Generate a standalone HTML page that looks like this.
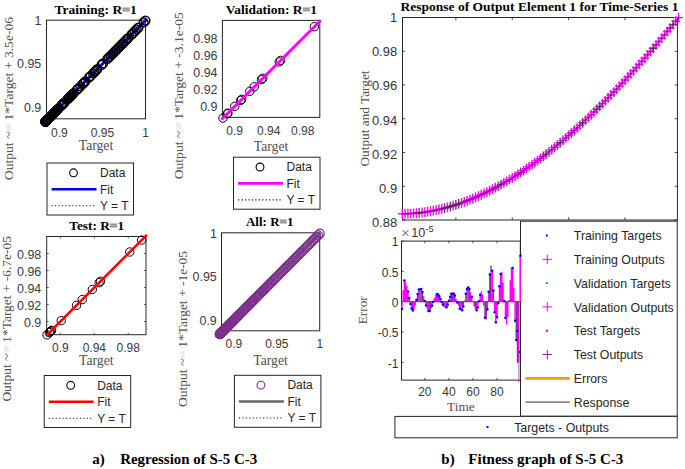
<!DOCTYPE html>
<html><head><meta charset="utf-8"><style>html,body{margin:0;padding:0;background:#fff;overflow:hidden}svg{display:block}</style></head>
<body><svg width="685" height="469" viewBox="0 0 685 469">
<rect width="685" height="469" fill="#fff"/>
<text x="54.6" y="14.2" font-size="13.5" font-family="Liberation Serif, serif" font-weight="bold" fill="#000" textLength="82.1" lengthAdjust="spacingAndGlyphs">Training: R<tspan fill="#8a8a8a" stroke="#9a9a9a" stroke-width="0.9">=</tspan>1</text>
<rect x="46.5" y="20.2" width="99" height="98.6" fill="#fff" stroke="#262626" stroke-width="1"/>
<text x="59.4" y="136.5" font-size="12" font-family="Liberation Sans, sans-serif" fill="#3a3a3a" text-anchor="middle" >0.9</text>
<text x="102.45" y="136.5" font-size="12" font-family="Liberation Sans, sans-serif" fill="#3a3a3a" text-anchor="middle" >0.95</text>
<text x="145.5" y="136.5" font-size="12" font-family="Liberation Sans, sans-serif" fill="#3a3a3a" text-anchor="middle" >1</text>
<text x="41.3" y="111.95" font-size="12.45" font-family="Liberation Sans, sans-serif" fill="#3a3a3a" text-anchor="end" >0.9</text>
<text x="41.3" y="68.45" font-size="12.45" font-family="Liberation Sans, sans-serif" fill="#3a3a3a" text-anchor="end" >0.95</text>
<text x="41.3" y="24.95" font-size="12.45" font-family="Liberation Sans, sans-serif" fill="#3a3a3a" text-anchor="end" >1</text>
<line x1="46.5" y1="120.53" x2="145.5" y2="20.5" stroke="#0000ff" stroke-width="2.9" stroke-linecap="square"/>
<g fill="none" stroke="#000" stroke-width="1.45"><circle cx="45.35" cy="121.7" r="4.4"/><circle cx="45.36" cy="121.68" r="4.4"/><circle cx="45.41" cy="121.64" r="4.4"/><circle cx="45.47" cy="121.57" r="4.4"/><circle cx="45.57" cy="121.48" r="4.4"/><circle cx="45.69" cy="121.35" r="4.4"/><circle cx="46" cy="121.04" r="4.4"/><circle cx="46.2" cy="120.84" r="4.4"/><circle cx="46.42" cy="120.62" r="4.4"/><circle cx="46.66" cy="120.37" r="4.4"/><circle cx="46.93" cy="120.1" r="4.4"/><circle cx="47.22" cy="119.81" r="4.4"/><circle cx="47.87" cy="119.15" r="4.4"/><circle cx="48.63" cy="118.39" r="4.4"/><circle cx="49.47" cy="117.53" r="4.4"/><circle cx="50.91" cy="116.08" r="4.4"/><circle cx="51.43" cy="115.55" r="4.4"/><circle cx="53.14" cy="113.82" r="4.4"/><circle cx="53.76" cy="113.2" r="4.4"/><circle cx="54.39" cy="112.56" r="4.4"/><circle cx="55.05" cy="111.89" r="4.4"/><circle cx="55.73" cy="111.21" r="4.4"/><circle cx="56.43" cy="110.5" r="4.4"/><circle cx="57.15" cy="109.77" r="4.4"/><circle cx="57.89" cy="109.02" r="4.4"/><circle cx="58.66" cy="108.25" r="4.4"/><circle cx="61.07" cy="105.81" r="4.4"/><circle cx="61.92" cy="104.96" r="4.4"/><circle cx="62.78" cy="104.08" r="4.4"/><circle cx="63.67" cy="103.19" r="4.4"/><circle cx="64.57" cy="102.27" r="4.4"/><circle cx="67.4" cy="99.41" r="4.4"/><circle cx="68.39" cy="98.42" r="4.4"/><circle cx="69.39" cy="97.41" r="4.4"/><circle cx="70.41" cy="96.38" r="4.4"/><circle cx="71.45" cy="95.33" r="4.4"/><circle cx="72.5" cy="94.26" r="4.4"/><circle cx="73.58" cy="93.17" r="4.4"/><circle cx="76.91" cy="89.8" r="4.4"/><circle cx="78.06" cy="88.64" r="4.4"/><circle cx="80.41" cy="86.27" r="4.4"/><circle cx="82.82" cy="83.83" r="4.4"/><circle cx="84.06" cy="82.59" r="4.4"/><circle cx="85.31" cy="81.32" r="4.4"/><circle cx="89.16" cy="77.43" r="4.4"/><circle cx="90.47" cy="76.1" r="4.4"/><circle cx="93.15" cy="73.4" r="4.4"/><circle cx="94.51" cy="72.02" r="4.4"/><circle cx="95.89" cy="70.63" r="4.4"/><circle cx="97.28" cy="69.22" r="4.4"/><circle cx="101.56" cy="64.9" r="4.4"/><circle cx="103.01" cy="63.44" r="4.4"/><circle cx="107.45" cy="58.94" r="4.4"/><circle cx="108.96" cy="57.42" r="4.4"/><circle cx="110.49" cy="55.88" r="4.4"/><circle cx="112.03" cy="54.32" r="4.4"/><circle cx="113.58" cy="52.76" r="4.4"/><circle cx="115.14" cy="51.17" r="4.4"/><circle cx="116.72" cy="49.58" r="4.4"/><circle cx="118.31" cy="47.97" r="4.4"/><circle cx="119.92" cy="46.35" r="4.4"/><circle cx="121.53" cy="44.72" r="4.4"/><circle cx="123.16" cy="43.07" r="4.4"/><circle cx="124.8" cy="41.41" r="4.4"/><circle cx="126.46" cy="39.74" r="4.4"/><circle cx="128.13" cy="38.06" r="4.4"/><circle cx="131.49" cy="34.65" r="4.4"/><circle cx="133.2" cy="32.93" r="4.4"/><circle cx="134.91" cy="31.2" r="4.4"/><circle cx="136.63" cy="29.46" r="4.4"/><circle cx="138.37" cy="27.7" r="4.4"/><circle cx="143.64" cy="22.38" r="4.4"/><circle cx="145.42" cy="20.58" r="4.4"/></g>
<text x="96" y="149.8" font-size="13.7" font-family="Liberation Serif, serif" fill="#505050" text-anchor="middle">Target</text>
<text transform="translate(12.5,180.2) rotate(-90)" font-size="13.3" font-family="Liberation Serif, serif" fill="#505050" textLength="163.3" lengthAdjust="spacingAndGlyphs">Output ~<tspan fill="#ececec" stroke="#ececec" stroke-width="1.5">=</tspan> 1*Target + 3.5e-06</text>
<rect x="47" y="163" width="86.5" height="52" fill="#fff" stroke="#262626" stroke-width="1"/>
<circle cx="73.5" cy="172.8" r="3.9" fill="none" stroke="#000" stroke-width="1.1"/>
<line x1="51.6" y1="189.2" x2="96.5" y2="189.2" stroke="#0000ff" stroke-width="2.6"/>
<line x1="51.6" y1="205.7" x2="96.5" y2="205.7" stroke="#000" stroke-width="1.15" stroke-dasharray="1.1 2.35"/>
<text x="100" y="177" font-size="12" font-family="Liberation Sans, sans-serif" fill="#262626" text-anchor="start" >Data</text>
<text x="100" y="193.5" font-size="12" font-family="Liberation Sans, sans-serif" fill="#262626" text-anchor="start" >Fit</text>
<text x="100" y="210" font-size="12" font-family="Liberation Sans, sans-serif" fill="#262626" text-anchor="start" >Y = T</text>
<text x="225.8" y="14.4" font-size="13.5" font-family="Liberation Serif, serif" font-weight="bold" fill="#000" textLength="91.1" lengthAdjust="spacingAndGlyphs">Validation: R<tspan fill="#8a8a8a" stroke="#9a9a9a" stroke-width="0.9">=</tspan>1</text>
<rect x="222.4" y="20.4" width="97.4" height="97" fill="#fff" stroke="#262626" stroke-width="1"/>
<text x="234.7" y="135" font-size="12" font-family="Liberation Sans, sans-serif" fill="#3a3a3a" text-anchor="middle" >0.9</text>
<text x="268.7" y="135" font-size="12" font-family="Liberation Sans, sans-serif" fill="#3a3a3a" text-anchor="middle" >0.94</text>
<text x="302.7" y="135" font-size="12" font-family="Liberation Sans, sans-serif" fill="#3a3a3a" text-anchor="middle" >0.98</text>
<text x="217.5" y="110.85" font-size="12.45" font-family="Liberation Sans, sans-serif" fill="#3a3a3a" text-anchor="end" >0.9</text>
<text x="217.5" y="93.85" font-size="12.45" font-family="Liberation Sans, sans-serif" fill="#3a3a3a" text-anchor="end" >0.92</text>
<text x="217.5" y="76.85" font-size="12.45" font-family="Liberation Sans, sans-serif" fill="#3a3a3a" text-anchor="end" >0.94</text>
<text x="217.5" y="59.85" font-size="12.45" font-family="Liberation Sans, sans-serif" fill="#3a3a3a" text-anchor="end" >0.96</text>
<text x="217.5" y="42.85" font-size="12.45" font-family="Liberation Sans, sans-serif" fill="#3a3a3a" text-anchor="end" >0.98</text>
<g fill="none" stroke="#000" stroke-width="1"><circle cx="222.99" cy="118.11" r="4.2"/><circle cx="227.38" cy="113.72" r="4.2"/><circle cx="227.94" cy="113.16" r="4.2"/><circle cx="234.74" cy="106.36" r="4.2"/><circle cx="240.72" cy="100.38" r="4.2"/><circle cx="241.65" cy="99.45" r="4.2"/><circle cx="249.78" cy="91.32" r="4.2"/><circle cx="254.27" cy="86.83" r="4.2"/><circle cx="261.53" cy="79.57" r="4.2"/><circle cx="262.79" cy="78.31" r="4.2"/><circle cx="279.2" cy="61.9" r="4.2"/><circle cx="280.66" cy="60.44" r="4.2"/><circle cx="314.39" cy="26.71" r="4.2"/></g>
<line x1="222.4" y1="118.7" x2="319.8" y2="21.3" stroke="#ff00ff" stroke-width="2.9" stroke-linecap="square"/>
<text x="271.1" y="151" font-size="13.7" font-family="Liberation Serif, serif" fill="#505050" text-anchor="middle">Target</text>
<text transform="translate(182.9,179.2) rotate(-90)" font-size="13.3" font-family="Liberation Serif, serif" fill="#505050" textLength="167" lengthAdjust="spacingAndGlyphs">Output ~<tspan fill="#ececec" stroke="#ececec" stroke-width="1.5">=</tspan> 1*Target + -3.1e-05</text>
<rect x="233.5" y="157.2" width="86.5" height="52" fill="#fff" stroke="#262626" stroke-width="1"/>
<circle cx="260" cy="167" r="3.9" fill="none" stroke="#000" stroke-width="1.1"/>
<line x1="238.1" y1="183.4" x2="283" y2="183.4" stroke="#ff00ff" stroke-width="2.6"/>
<line x1="238.1" y1="199.9" x2="283" y2="199.9" stroke="#000" stroke-width="1.15" stroke-dasharray="1.1 2.35"/>
<text x="286.5" y="171.2" font-size="12" font-family="Liberation Sans, sans-serif" fill="#262626" text-anchor="start" >Data</text>
<text x="286.5" y="187.7" font-size="12" font-family="Liberation Sans, sans-serif" fill="#262626" text-anchor="start" >Fit</text>
<text x="286.5" y="204.2" font-size="12" font-family="Liberation Sans, sans-serif" fill="#262626" text-anchor="start" >Y = T</text>
<text x="69.3" y="229.8" font-size="13.5" font-family="Liberation Serif, serif" font-weight="bold" fill="#000" textLength="54.8" lengthAdjust="spacingAndGlyphs">Test: R<tspan fill="#8a8a8a" stroke="#9a9a9a" stroke-width="0.9">=</tspan>1</text>
<rect x="46.7" y="236.5" width="99.3" height="98.2" fill="#fff" stroke="#262626" stroke-width="1"/>
<path d="M60.4 334.7v-2M60.4 236.5v2" stroke="#262626" stroke-width="0.7"/>
<text x="60.4" y="352.2" font-size="12" font-family="Liberation Sans, sans-serif" fill="#3a3a3a" text-anchor="middle" >0.9</text>
<path d="M94.32 334.7v-2M94.32 236.5v2" stroke="#262626" stroke-width="0.7"/>
<text x="94.32" y="352.2" font-size="12" font-family="Liberation Sans, sans-serif" fill="#3a3a3a" text-anchor="middle" >0.94</text>
<path d="M128.24 334.7v-2M128.24 236.5v2" stroke="#262626" stroke-width="0.7"/>
<text x="128.24" y="352.2" font-size="12" font-family="Liberation Sans, sans-serif" fill="#3a3a3a" text-anchor="middle" >0.98</text>
<path d="M46.7 321.5h2M146 321.5h-2" stroke="#262626" stroke-width="0.7"/>
<text x="41.3" y="326.75" font-size="12.45" font-family="Liberation Sans, sans-serif" fill="#3a3a3a" text-anchor="end" >0.9</text>
<path d="M46.7 304.5h2M146 304.5h-2" stroke="#262626" stroke-width="0.7"/>
<text x="41.3" y="309.75" font-size="12.45" font-family="Liberation Sans, sans-serif" fill="#3a3a3a" text-anchor="end" >0.92</text>
<path d="M46.7 287.5h2M146 287.5h-2" stroke="#262626" stroke-width="0.7"/>
<text x="41.3" y="292.75" font-size="12.45" font-family="Liberation Sans, sans-serif" fill="#3a3a3a" text-anchor="end" >0.94</text>
<path d="M46.7 270.5h2M146 270.5h-2" stroke="#262626" stroke-width="0.7"/>
<text x="41.3" y="275.75" font-size="12.45" font-family="Liberation Sans, sans-serif" fill="#3a3a3a" text-anchor="end" >0.96</text>
<path d="M46.7 253.5h2M146 253.5h-2" stroke="#262626" stroke-width="0.7"/>
<text x="41.3" y="258.75" font-size="12.45" font-family="Liberation Sans, sans-serif" fill="#3a3a3a" text-anchor="end" >0.98</text>
<g fill="none" stroke="#000" stroke-width="1"><circle cx="47.04" cy="334.89" r="4.2"/><circle cx="49.41" cy="332.52" r="4.2"/><circle cx="50.19" cy="331.73" r="4.2"/><circle cx="51.07" cy="330.85" r="4.2"/><circle cx="51.54" cy="330.38" r="4.2"/><circle cx="61.23" cy="320.66" r="4.2"/><circle cx="76.54" cy="305.33" r="4.2"/><circle cx="82.27" cy="299.58" r="4.2"/><circle cx="92.31" cy="289.51" r="4.2"/><circle cx="99.1" cy="282.71" r="4.2"/><circle cx="100.5" cy="281.3" r="4.2"/><circle cx="129.74" cy="252" r="4.2"/><circle cx="141.63" cy="240.08" r="4.2"/></g>
<line x1="46.7" y1="335.23" x2="146" y2="235.7" stroke="#ff0000" stroke-width="2.5" stroke-linecap="square"/>
<text x="96.35" y="364.6" font-size="13.7" font-family="Liberation Serif, serif" fill="#505050" text-anchor="middle">Target</text>
<text transform="translate(11,401.6) rotate(-90)" font-size="13.3" font-family="Liberation Serif, serif" fill="#505050" textLength="165.5" lengthAdjust="spacingAndGlyphs">Output ~<tspan fill="#ececec" stroke="#ececec" stroke-width="1.5">=</tspan> 1*Target + -6.7e-05</text>
<rect x="44.2" y="375.5" width="86.5" height="52" fill="#fff" stroke="#262626" stroke-width="1"/>
<circle cx="70.7" cy="385.3" r="3.9" fill="none" stroke="#000" stroke-width="1.1"/>
<line x1="48.8" y1="401.7" x2="93.7" y2="401.7" stroke="#ff0000" stroke-width="2.6"/>
<line x1="48.8" y1="418.2" x2="93.7" y2="418.2" stroke="#000" stroke-width="1.15" stroke-dasharray="1.1 2.35"/>
<text x="97.2" y="389.5" font-size="12" font-family="Liberation Sans, sans-serif" fill="#262626" text-anchor="start" >Data</text>
<text x="97.2" y="406" font-size="12" font-family="Liberation Sans, sans-serif" fill="#262626" text-anchor="start" >Fit</text>
<text x="97.2" y="422.5" font-size="12" font-family="Liberation Sans, sans-serif" fill="#262626" text-anchor="start" >Y = T</text>
<text x="246" y="226.4" font-size="13.5" font-family="Liberation Serif, serif" font-weight="bold" fill="#000" textLength="47.4" lengthAdjust="spacingAndGlyphs">All: R<tspan fill="#8a8a8a" stroke="#9a9a9a" stroke-width="0.9">=</tspan>1</text>
<rect x="221.5" y="232.8" width="98.2" height="98" fill="#fff" stroke="#262626" stroke-width="1"/>
<text x="233.8" y="348.4" font-size="12" font-family="Liberation Sans, sans-serif" fill="#3a3a3a" text-anchor="middle" >0.9</text>
<text x="276.85" y="348.4" font-size="12" font-family="Liberation Sans, sans-serif" fill="#3a3a3a" text-anchor="middle" >0.95</text>
<text x="319.9" y="348.4" font-size="12" font-family="Liberation Sans, sans-serif" fill="#3a3a3a" text-anchor="middle" >1</text>
<text x="216.8" y="324.55" font-size="12.45" font-family="Liberation Sans, sans-serif" fill="#3a3a3a" text-anchor="end" >0.9</text>
<text x="216.8" y="281.25" font-size="12.45" font-family="Liberation Sans, sans-serif" fill="#3a3a3a" text-anchor="end" >0.95</text>
<text x="216.8" y="237.95" font-size="12.45" font-family="Liberation Sans, sans-serif" fill="#3a3a3a" text-anchor="end" >1</text>
<line x1="221.5" y1="332.47" x2="319.7" y2="233.7" stroke="#666666" stroke-width="2.6" stroke-linecap="square"/>
<g fill="none" stroke="#7e2f8e" stroke-width="1.3"><circle cx="219.75" cy="334.24" r="4.4"/><circle cx="219.76" cy="334.22" r="4.4"/><circle cx="219.81" cy="334.17" r="4.4"/><circle cx="219.87" cy="334.11" r="4.4"/><circle cx="219.97" cy="334.01" r="4.4"/><circle cx="220.09" cy="333.89" r="4.4"/><circle cx="220.23" cy="333.75" r="4.4"/><circle cx="220.4" cy="333.58" r="4.4"/><circle cx="220.6" cy="333.38" r="4.4"/><circle cx="220.82" cy="333.16" r="4.4"/><circle cx="221.06" cy="332.91" r="4.4"/><circle cx="221.33" cy="332.65" r="4.4"/><circle cx="221.62" cy="332.35" r="4.4"/><circle cx="221.93" cy="332.03" r="4.4"/><circle cx="222.27" cy="331.69" r="4.4"/><circle cx="222.64" cy="331.33" r="4.4"/><circle cx="223.03" cy="330.94" r="4.4"/><circle cx="223.44" cy="330.52" r="4.4"/><circle cx="223.87" cy="330.09" r="4.4"/><circle cx="224.33" cy="329.63" r="4.4"/><circle cx="224.81" cy="329.15" r="4.4"/><circle cx="225.31" cy="328.64" r="4.4"/><circle cx="225.83" cy="328.11" r="4.4"/><circle cx="226.38" cy="327.56" r="4.4"/><circle cx="226.95" cy="326.99" r="4.4"/><circle cx="227.54" cy="326.39" r="4.4"/><circle cx="228.16" cy="325.77" r="4.4"/><circle cx="228.79" cy="325.14" r="4.4"/><circle cx="229.45" cy="324.47" r="4.4"/><circle cx="230.13" cy="323.79" r="4.4"/><circle cx="230.83" cy="323.09" r="4.4"/><circle cx="231.55" cy="322.36" r="4.4"/><circle cx="232.29" cy="321.61" r="4.4"/><circle cx="233.06" cy="320.85" r="4.4"/><circle cx="233.84" cy="320.06" r="4.4"/><circle cx="234.65" cy="319.25" r="4.4"/><circle cx="235.47" cy="318.42" r="4.4"/><circle cx="236.32" cy="317.57" r="4.4"/><circle cx="237.18" cy="316.7" r="4.4"/><circle cx="238.07" cy="315.81" r="4.4"/><circle cx="238.97" cy="314.9" r="4.4"/><circle cx="239.9" cy="313.97" r="4.4"/><circle cx="240.84" cy="313.02" r="4.4"/><circle cx="241.8" cy="312.05" r="4.4"/><circle cx="242.79" cy="311.06" r="4.4"/><circle cx="243.79" cy="310.05" r="4.4"/><circle cx="244.81" cy="309.03" r="4.4"/><circle cx="245.85" cy="307.98" r="4.4"/><circle cx="246.9" cy="306.92" r="4.4"/><circle cx="247.98" cy="305.84" r="4.4"/><circle cx="249.07" cy="304.74" r="4.4"/><circle cx="250.18" cy="303.62" r="4.4"/><circle cx="251.31" cy="302.48" r="4.4"/><circle cx="252.46" cy="301.33" r="4.4"/><circle cx="253.63" cy="300.16" r="4.4"/><circle cx="254.81" cy="298.97" r="4.4"/><circle cx="256.01" cy="297.76" r="4.4"/><circle cx="257.22" cy="296.54" r="4.4"/><circle cx="258.46" cy="295.3" r="4.4"/><circle cx="259.71" cy="294.04" r="4.4"/><circle cx="260.97" cy="292.77" r="4.4"/><circle cx="262.26" cy="291.48" r="4.4"/><circle cx="263.56" cy="290.17" r="4.4"/><circle cx="264.87" cy="288.85" r="4.4"/><circle cx="266.2" cy="287.51" r="4.4"/><circle cx="267.55" cy="286.15" r="4.4"/><circle cx="268.91" cy="284.78" r="4.4"/><circle cx="270.29" cy="283.4" r="4.4"/><circle cx="271.68" cy="282" r="4.4"/><circle cx="273.09" cy="280.58" r="4.4"/><circle cx="274.52" cy="279.15" r="4.4"/><circle cx="275.96" cy="277.7" r="4.4"/><circle cx="277.41" cy="276.24" r="4.4"/><circle cx="278.88" cy="274.76" r="4.4"/><circle cx="280.36" cy="273.27" r="4.4"/><circle cx="281.85" cy="271.77" r="4.4"/><circle cx="283.36" cy="270.25" r="4.4"/><circle cx="284.89" cy="268.71" r="4.4"/><circle cx="286.43" cy="267.17" r="4.4"/><circle cx="287.98" cy="265.61" r="4.4"/><circle cx="289.54" cy="264.03" r="4.4"/><circle cx="291.12" cy="262.45" r="4.4"/><circle cx="292.71" cy="260.85" r="4.4"/><circle cx="294.32" cy="259.23" r="4.4"/><circle cx="295.93" cy="257.61" r="4.4"/><circle cx="297.56" cy="255.97" r="4.4"/><circle cx="299.2" cy="254.32" r="4.4"/><circle cx="300.86" cy="252.65" r="4.4"/><circle cx="302.53" cy="250.98" r="4.4"/><circle cx="304.2" cy="249.29" r="4.4"/><circle cx="305.89" cy="247.59" r="4.4"/><circle cx="307.6" cy="245.88" r="4.4"/><circle cx="309.31" cy="244.15" r="4.4"/><circle cx="311.03" cy="242.42" r="4.4"/><circle cx="312.77" cy="240.67" r="4.4"/><circle cx="314.52" cy="238.91" r="4.4"/><circle cx="316.27" cy="237.15" r="4.4"/><circle cx="318.04" cy="235.37" r="4.4"/><circle cx="319.82" cy="233.58" r="4.4"/></g>
<text x="270.6" y="365" font-size="13.7" font-family="Liberation Serif, serif" fill="#505050" text-anchor="middle">Target</text>
<text transform="translate(187,406.9) rotate(-90)" font-size="13.3" font-family="Liberation Serif, serif" fill="#505050" textLength="156" lengthAdjust="spacingAndGlyphs">Output ~<tspan fill="#ececec" stroke="#ececec" stroke-width="1.5">=</tspan> 1*Target + -1e-05</text>
<rect x="234.4" y="375.3" width="86.5" height="52" fill="#fff" stroke="#262626" stroke-width="1"/>
<circle cx="260.9" cy="385.1" r="3.9" fill="none" stroke="#7e2f8e" stroke-width="1.1"/>
<line x1="239" y1="401.5" x2="283.9" y2="401.5" stroke="#666666" stroke-width="2.6"/>
<line x1="239" y1="418" x2="283.9" y2="418" stroke="#000" stroke-width="1.15" stroke-dasharray="1.1 2.35"/>
<text x="287.4" y="389.3" font-size="12" font-family="Liberation Sans, sans-serif" fill="#262626" text-anchor="start" >Data</text>
<text x="287.4" y="405.8" font-size="12" font-family="Liberation Sans, sans-serif" fill="#262626" text-anchor="start" >Fit</text>
<text x="287.4" y="422.3" font-size="12" font-family="Liberation Sans, sans-serif" fill="#262626" text-anchor="start" >Y = T</text>
<text x="400.5" y="10.8" font-size="13.4" font-family="Liberation Serif, serif" font-weight="bold" fill="#000" textLength="278" lengthAdjust="spacingAndGlyphs">Response of Output Element 1 for Time-Series 1</text>
<rect x="402.5" y="17.5" width="274.9" height="202.5" fill="#fff" stroke="#262626" stroke-width="1"/>
<path d="M455.87 220.0v-2.8M455.87 17.5v2.8" stroke="#262626" stroke-width="0.8"/>
<path d="M512.26 220.0v-2.8M512.26 17.5v2.8" stroke="#262626" stroke-width="0.8"/>
<path d="M568.64 220.0v-2.8M568.64 17.5v2.8" stroke="#262626" stroke-width="0.8"/>
<path d="M625.03 220.0v-2.8M625.03 17.5v2.8" stroke="#262626" stroke-width="0.8"/>
<path d="M402.5 17.5h2.8M677.4 17.5h-2.8" stroke="#262626" stroke-width="0.8"/>
<text x="397.2" y="22.25" font-size="13" font-family="Liberation Sans, sans-serif" fill="#333" text-anchor="end" >1</text>
<path d="M402.5 51.25h2.8M677.4 51.25h-2.8" stroke="#262626" stroke-width="0.8"/>
<text x="397.2" y="56.35" font-size="13" font-family="Liberation Sans, sans-serif" fill="#333" text-anchor="end" >0.98</text>
<path d="M402.5 85h2.8M677.4 85h-2.8" stroke="#262626" stroke-width="0.8"/>
<text x="397.2" y="90.45" font-size="13" font-family="Liberation Sans, sans-serif" fill="#333" text-anchor="end" >0.96</text>
<path d="M402.5 118.75h2.8M677.4 118.75h-2.8" stroke="#262626" stroke-width="0.8"/>
<text x="397.2" y="124.55" font-size="13" font-family="Liberation Sans, sans-serif" fill="#333" text-anchor="end" >0.94</text>
<path d="M402.5 152.5h2.8M677.4 152.5h-2.8" stroke="#262626" stroke-width="0.8"/>
<text x="397.2" y="158.65" font-size="13" font-family="Liberation Sans, sans-serif" fill="#333" text-anchor="end" >0.92</text>
<path d="M402.5 186.25h2.8M677.4 186.25h-2.8" stroke="#262626" stroke-width="0.8"/>
<text x="397.2" y="192.75" font-size="13" font-family="Liberation Sans, sans-serif" fill="#333" text-anchor="end" >0.9</text>
<path d="M402.5 220h2.8M677.4 220h-2.8" stroke="#262626" stroke-width="0.8"/>
<text x="397.2" y="226.85" font-size="13" font-family="Liberation Sans, sans-serif" fill="#333" text-anchor="end" >0.88</text>
<text transform="translate(369,118.5) rotate(-90)" font-size="13.3" font-family="Liberation Serif, serif" fill="#505050" text-anchor="middle">Output and Target</text>
<circle cx="402.3" cy="213.79" r="1.1" fill="#0000ff"/><circle cx="405.12" cy="213.76" r="1.1" fill="#0000ff"/><circle cx="407.94" cy="213.68" r="1.1" fill="#0000ff"/><circle cx="410.76" cy="213.54" r="1.1" fill="#0000ff"/><circle cx="413.58" cy="213.36" r="1.1" fill="#0000ff"/><circle cx="416.4" cy="213.12" r="1.1" fill="#0000ff"/><circle cx="419.22" cy="212.84" r="1.1" fill="#ff0000"/><circle cx="422.04" cy="212.51" r="1.1" fill="#0000ff"/><circle cx="424.86" cy="212.13" r="1.1" fill="#0000ff"/><circle cx="427.67" cy="211.7" r="1.1" fill="#0000ff"/><circle cx="430.49" cy="211.22" r="1.1" fill="#0000ff"/><circle cx="433.31" cy="210.7" r="1.1" fill="#0000ff"/><circle cx="436.13" cy="210.12" r="1.1" fill="#0000ff"/><circle cx="438.95" cy="209.5" r="1.1" fill="#00c000"/><circle cx="441.77" cy="208.84" r="1.1" fill="#0000ff"/><circle cx="444.59" cy="208.13" r="1.1" fill="#ff0000"/><circle cx="447.41" cy="207.37" r="1.1" fill="#0000ff"/><circle cx="450.23" cy="206.56" r="1.1" fill="#ff0000"/><circle cx="453.05" cy="205.71" r="1.1" fill="#0000ff"/><circle cx="455.87" cy="204.82" r="1.1" fill="#ff0000"/><circle cx="458.69" cy="203.88" r="1.1" fill="#ff0000"/><circle cx="461.51" cy="202.89" r="1.1" fill="#0000ff"/><circle cx="464.33" cy="201.86" r="1.1" fill="#0000ff"/><circle cx="467.15" cy="200.79" r="1.1" fill="#00c000"/><circle cx="469.97" cy="199.67" r="1.1" fill="#00c000"/><circle cx="472.78" cy="198.51" r="1.1" fill="#0000ff"/><circle cx="475.6" cy="197.31" r="1.1" fill="#0000ff"/><circle cx="478.42" cy="196.06" r="1.1" fill="#0000ff"/><circle cx="481.24" cy="194.77" r="1.1" fill="#0000ff"/><circle cx="484.06" cy="193.44" r="1.1" fill="#0000ff"/><circle cx="486.88" cy="192.07" r="1.1" fill="#0000ff"/><circle cx="489.7" cy="190.66" r="1.1" fill="#0000ff"/><circle cx="492.52" cy="189.2" r="1.1" fill="#0000ff"/><circle cx="495.34" cy="187.7" r="1.1" fill="#0000ff"/><circle cx="498.16" cy="186.17" r="1.1" fill="#00c000"/><circle cx="500.98" cy="184.59" r="1.1" fill="#ff0000"/><circle cx="503.8" cy="182.97" r="1.1" fill="#0000ff"/><circle cx="506.62" cy="181.32" r="1.1" fill="#0000ff"/><circle cx="509.44" cy="179.62" r="1.1" fill="#0000ff"/><circle cx="512.26" cy="177.89" r="1.1" fill="#0000ff"/><circle cx="515.08" cy="176.11" r="1.1" fill="#0000ff"/><circle cx="517.89" cy="174.3" r="1.1" fill="#00c000"/><circle cx="520.71" cy="172.45" r="1.1" fill="#00c000"/><circle cx="523.53" cy="170.56" r="1.1" fill="#0000ff"/><circle cx="526.35" cy="168.64" r="1.1" fill="#0000ff"/><circle cx="529.17" cy="166.68" r="1.1" fill="#0000ff"/><circle cx="531.99" cy="164.68" r="1.1" fill="#0000ff"/><circle cx="534.81" cy="162.64" r="1.1" fill="#0000ff"/><circle cx="537.63" cy="160.57" r="1.1" fill="#0000ff"/><circle cx="540.45" cy="158.46" r="1.1" fill="#0000ff"/><circle cx="543.27" cy="156.32" r="1.1" fill="#00c000"/><circle cx="546.09" cy="154.14" r="1.1" fill="#ff0000"/><circle cx="548.91" cy="151.92" r="1.1" fill="#0000ff"/><circle cx="551.73" cy="149.68" r="1.1" fill="#0000ff"/><circle cx="554.55" cy="147.39" r="1.1" fill="#00c000"/><circle cx="557.37" cy="145.08" r="1.1" fill="#0000ff"/><circle cx="560.19" cy="142.73" r="1.1" fill="#ff0000"/><circle cx="563.01" cy="140.34" r="1.1" fill="#0000ff"/><circle cx="565.82" cy="137.92" r="1.1" fill="#0000ff"/><circle cx="568.64" cy="135.47" r="1.1" fill="#0000ff"/><circle cx="571.46" cy="132.99" r="1.1" fill="#00c000"/><circle cx="574.28" cy="130.48" r="1.1" fill="#00c000"/><circle cx="577.1" cy="127.93" r="1.1" fill="#0000ff"/><circle cx="579.92" cy="125.35" r="1.1" fill="#0000ff"/><circle cx="582.74" cy="122.74" r="1.1" fill="#ff0000"/><circle cx="585.56" cy="120.1" r="1.1" fill="#0000ff"/><circle cx="588.38" cy="117.43" r="1.1" fill="#0000ff"/><circle cx="591.2" cy="114.73" r="1.1" fill="#0000ff"/><circle cx="594.02" cy="112" r="1.1" fill="#0000ff"/><circle cx="596.84" cy="109.24" r="1.1" fill="#ff0000"/><circle cx="599.66" cy="106.45" r="1.1" fill="#ff0000"/><circle cx="602.48" cy="103.63" r="1.1" fill="#0000ff"/><circle cx="605.3" cy="100.78" r="1.1" fill="#0000ff"/><circle cx="608.12" cy="97.9" r="1.1" fill="#00c000"/><circle cx="610.93" cy="95" r="1.1" fill="#00c000"/><circle cx="613.75" cy="92.07" r="1.1" fill="#0000ff"/><circle cx="616.57" cy="89.11" r="1.1" fill="#0000ff"/><circle cx="619.39" cy="86.12" r="1.1" fill="#0000ff"/><circle cx="622.21" cy="83.11" r="1.1" fill="#0000ff"/><circle cx="625.03" cy="80.06" r="1.1" fill="#0000ff"/><circle cx="627.85" cy="77" r="1.1" fill="#0000ff"/><circle cx="630.67" cy="73.9" r="1.1" fill="#0000ff"/><circle cx="633.49" cy="70.79" r="1.1" fill="#0000ff"/><circle cx="636.31" cy="67.64" r="1.1" fill="#0000ff"/><circle cx="639.13" cy="64.47" r="1.1" fill="#0000ff"/><circle cx="641.95" cy="61.28" r="1.1" fill="#0000ff"/><circle cx="644.77" cy="58.06" r="1.1" fill="#0000ff"/><circle cx="647.59" cy="54.82" r="1.1" fill="#0000ff"/><circle cx="650.41" cy="51.55" r="1.1" fill="#0000ff"/><circle cx="653.23" cy="48.26" r="1.1" fill="#ff0000"/><circle cx="656.04" cy="44.95" r="1.1" fill="#0000ff"/><circle cx="658.86" cy="41.62" r="1.1" fill="#0000ff"/><circle cx="661.68" cy="38.26" r="1.1" fill="#0000ff"/><circle cx="664.5" cy="34.88" r="1.1" fill="#0000ff"/><circle cx="667.32" cy="31.47" r="1.1" fill="#0000ff"/><circle cx="670.14" cy="28.05" r="1.1" fill="#00c000"/><circle cx="672.96" cy="24.61" r="1.1" fill="#ff0000"/><circle cx="675.78" cy="21.14" r="1.1" fill="#0000ff"/><circle cx="678.6" cy="17.65" r="1.1" fill="#0000ff"/>
<path d="M397.9 213.79h8.8M402.3 208.89v9.8M400.72 213.76h8.8M405.12 208.86v9.8M403.54 213.68h8.8M407.94 208.78v9.8M406.36 213.54h8.8M410.76 208.64v9.8M409.18 213.36h8.8M413.58 208.46v9.8M412 213.12h8.8M416.4 208.22v9.8M417.64 212.51h8.8M422.04 207.61v9.8M420.46 212.13h8.8M424.86 207.23v9.8M423.27 211.7h8.8M427.67 206.8v9.8M426.09 211.22h8.8M430.49 206.32v9.8M428.91 210.7h8.8M433.31 205.8v9.8M431.73 210.12h8.8M436.13 205.22v9.8M437.37 208.84h8.8M441.77 203.94v9.8M443.01 207.37h8.8M447.41 202.47v9.8M448.65 205.71h8.8M453.05 200.81v9.8M457.11 202.89h8.8M461.51 197.99v9.8M459.93 201.86h8.8M464.33 196.96v9.8M468.38 198.51h8.8M472.78 193.61v9.8M471.2 197.31h8.8M475.6 192.41v9.8M474.02 196.06h8.8M478.42 191.16v9.8M476.84 194.77h8.8M481.24 189.87v9.8M479.66 193.44h8.8M484.06 188.54v9.8M482.48 192.07h8.8M486.88 187.17v9.8M485.3 190.66h8.8M489.7 185.76v9.8M488.12 189.2h8.8M492.52 184.3v9.8M490.94 187.7h8.8M495.34 182.8v9.8M499.4 182.97h8.8M503.8 178.07v9.8M502.22 181.32h8.8M506.62 176.42v9.8M505.04 179.62h8.8M509.44 174.72v9.8M507.86 177.89h8.8M512.26 172.99v9.8M510.68 176.11h8.8M515.08 171.21v9.8M519.13 170.56h8.8M523.53 165.66v9.8M521.95 168.64h8.8M526.35 163.74v9.8M524.77 166.68h8.8M529.17 161.78v9.8M527.59 164.68h8.8M531.99 159.78v9.8M530.41 162.64h8.8M534.81 157.74v9.8M533.23 160.57h8.8M537.63 155.67v9.8M536.05 158.46h8.8M540.45 153.56v9.8M544.51 151.92h8.8M548.91 147.02v9.8M547.33 149.68h8.8M551.73 144.78v9.8M552.97 145.08h8.8M557.37 140.18v9.8M558.61 140.34h8.8M563.01 135.44v9.8M561.42 137.92h8.8M565.82 133.02v9.8M564.24 135.47h8.8M568.64 130.57v9.8M572.7 127.93h8.8M577.1 123.03v9.8M575.52 125.35h8.8M579.92 120.45v9.8M581.16 120.1h8.8M585.56 115.2v9.8M583.98 117.43h8.8M588.38 112.53v9.8M586.8 114.73h8.8M591.2 109.83v9.8M589.62 112h8.8M594.02 107.1v9.8M598.08 103.63h8.8M602.48 98.73v9.8M600.9 100.78h8.8M605.3 95.88v9.8M609.35 92.07h8.8M613.75 87.17v9.8M612.17 89.11h8.8M616.57 84.21v9.8M614.99 86.12h8.8M619.39 81.22v9.8M617.81 83.11h8.8M622.21 78.21v9.8M620.63 80.06h8.8M625.03 75.16v9.8M623.45 77h8.8M627.85 72.1v9.8M626.27 73.9h8.8M630.67 69v9.8M629.09 70.79h8.8M633.49 65.89v9.8M631.91 67.64h8.8M636.31 62.74v9.8M634.73 64.47h8.8M639.13 59.57v9.8M637.55 61.28h8.8M641.95 56.38v9.8M640.37 58.06h8.8M644.77 53.16v9.8M643.19 54.82h8.8M647.59 49.92v9.8M646.01 51.55h8.8M650.41 46.65v9.8M651.64 44.95h8.8M656.04 40.05v9.8M654.46 41.62h8.8M658.86 36.72v9.8M657.28 38.26h8.8M661.68 33.36v9.8M660.1 34.88h8.8M664.5 29.98v9.8M662.92 31.47h8.8M667.32 26.57v9.8M671.38 21.14h8.8M675.78 16.24v9.8M674.2 17.65h8.8M678.6 12.75v9.8" stroke="#ff00ff" stroke-width="1.4" fill="none"/>
<path d="M434.55 209.5h8.8M438.95 204.6v9.8M462.75 200.79h8.8M467.15 195.89v9.8M465.57 199.67h8.8M469.97 194.77v9.8M493.76 186.17h8.8M498.16 181.27v9.8M513.49 174.3h8.8M517.89 169.4v9.8M516.31 172.45h8.8M520.71 167.55v9.8M538.87 156.32h8.8M543.27 151.42v9.8M550.15 147.39h8.8M554.55 142.49v9.8M567.06 132.99h8.8M571.46 128.09v9.8M569.88 130.48h8.8M574.28 125.58v9.8M603.72 97.9h8.8M608.12 93v9.8M606.53 95h8.8M610.93 90.1v9.8M665.74 28.05h8.8M670.14 23.15v9.8" stroke="#e000e0" stroke-width="1.4" fill="none"/>
<path d="M414.82 212.84h8.8M419.22 207.94v9.8M440.19 208.13h8.8M444.59 203.23v9.8M445.83 206.56h8.8M450.23 201.66v9.8M451.47 204.82h8.8M455.87 199.92v9.8M454.29 203.88h8.8M458.69 198.98v9.8M496.58 184.59h8.8M500.98 179.69v9.8M541.69 154.14h8.8M546.09 149.24v9.8M555.79 142.73h8.8M560.19 137.83v9.8M578.34 122.74h8.8M582.74 117.84v9.8M592.44 109.24h8.8M596.84 104.34v9.8M595.26 106.45h8.8M599.66 101.55v9.8M648.83 48.26h8.8M653.23 43.36v9.8M668.56 24.61h8.8M672.96 19.71v9.8" stroke="#7e2f8e" stroke-width="1.4" fill="none"/>
<polyline points="402.3,213.79 405.12,213.76 407.94,213.68 410.76,213.54 413.58,213.36 416.4,213.12 419.22,212.84 422.04,212.51 424.86,212.13 427.67,211.7 430.49,211.22 433.31,210.7 436.13,210.12 438.95,209.5 441.77,208.84 444.59,208.13 447.41,207.37 450.23,206.56 453.05,205.71 455.87,204.82 458.69,203.88 461.51,202.89 464.33,201.86 467.15,200.79 469.97,199.67 472.78,198.51 475.6,197.31 478.42,196.06 481.24,194.77 484.06,193.44 486.88,192.07 489.7,190.66 492.52,189.2 495.34,187.7 498.16,186.17 500.98,184.59 503.8,182.97 506.62,181.32 509.44,179.62 512.26,177.89 515.08,176.11 517.89,174.3 520.71,172.45 523.53,170.56 526.35,168.64 529.17,166.68 531.99,164.68 534.81,162.64 537.63,160.57 540.45,158.46 543.27,156.32 546.09,154.14 548.91,151.92 551.73,149.68 554.55,147.39 557.37,145.08 560.19,142.73 563.01,140.34 565.82,137.92 568.64,135.47 571.46,132.99 574.28,130.48 577.1,127.93 579.92,125.35 582.74,122.74 585.56,120.1 588.38,117.43 591.2,114.73 594.02,112 596.84,109.24 599.66,106.45 602.48,103.63 605.3,100.78 608.12,97.9 610.93,95 613.75,92.07 616.57,89.11 619.39,86.12 622.21,83.11 625.03,80.06 627.85,77 630.67,73.9 633.49,70.79 636.31,67.64 639.13,64.47 641.95,61.28 644.77,58.06 647.59,54.82 650.41,51.55 653.23,48.26 656.04,44.95 658.86,41.62 661.68,38.26 664.5,34.88 667.32,31.47 670.14,28.05 672.96,24.61 675.78,21.14 678.6,17.65" fill="none" stroke="#400040" stroke-width="1.6" opacity="0.45"/>
<rect x="401.5" y="241.1" width="118.8" height="139" fill="#fff" stroke="#262626" stroke-width="1"/>
<path d="M424.86 380.1v-2.2M424.86 241.1v2.2" stroke="#262626" stroke-width="0.8"/>
<text x="424.86" y="395.6" font-size="12" font-family="Liberation Sans, sans-serif" fill="#3a3a3a" text-anchor="middle" >20</text>
<path d="M448.92 380.1v-2.2M448.92 241.1v2.2" stroke="#262626" stroke-width="0.8"/>
<text x="448.92" y="395.6" font-size="12" font-family="Liberation Sans, sans-serif" fill="#3a3a3a" text-anchor="middle" >40</text>
<path d="M472.98 380.1v-2.2M472.98 241.1v2.2" stroke="#262626" stroke-width="0.8"/>
<text x="472.98" y="395.6" font-size="12" font-family="Liberation Sans, sans-serif" fill="#3a3a3a" text-anchor="middle" >60</text>
<path d="M497.04 380.1v-2.2M497.04 241.1v2.2" stroke="#262626" stroke-width="0.8"/>
<text x="497.04" y="395.6" font-size="12" font-family="Liberation Sans, sans-serif" fill="#3a3a3a" text-anchor="middle" >80</text>
<path d="M401.5 241.1h2.2" stroke="#262626" stroke-width="0.8"/>
<text x="398.5" y="246.3" font-size="12" font-family="Liberation Sans, sans-serif" fill="#333" text-anchor="end" >1</text>
<path d="M401.5 271.4h2.2" stroke="#262626" stroke-width="0.8"/>
<text x="398.5" y="276.6" font-size="12" font-family="Liberation Sans, sans-serif" fill="#333" text-anchor="end" >0.5</text>
<path d="M401.5 301.7h2.2" stroke="#262626" stroke-width="0.8"/>
<text x="398.5" y="306.9" font-size="12" font-family="Liberation Sans, sans-serif" fill="#333" text-anchor="end" >0</text>
<path d="M401.5 332h2.2" stroke="#262626" stroke-width="0.8"/>
<text x="398.5" y="337.2" font-size="12" font-family="Liberation Sans, sans-serif" fill="#333" text-anchor="end" >-0.5</text>
<path d="M401.5 362.3h2.2" stroke="#262626" stroke-width="0.8"/>
<text x="398.5" y="367.5" font-size="12" font-family="Liberation Sans, sans-serif" fill="#333" text-anchor="end" >-1</text>
<text x="401.0" y="238.2" font-size="15" font-family="Liberation Sans, sans-serif" fill="#8a8a8a">×</text>
<text x="411.2" y="237.1" font-size="12.6" font-family="Liberation Sans, sans-serif" fill="#333">10</text>
<text x="425.4" y="231.5" font-size="9.3" font-family="Liberation Sans, sans-serif" fill="#333">-5</text>
<text x="460.9" y="410.5" font-size="13.3" font-family="Liberation Serif, serif" fill="#505050" text-anchor="middle">Time</text>
<text transform="translate(367,310.3) rotate(-90)" font-size="13.3" font-family="Liberation Serif, serif" fill="#505050" text-anchor="middle">Error</text>
<path d="M518.69 362V380" stroke="#c8a0d0" stroke-width="1.4"/>
<path d="M402 301.7V308.95M403.2 301.7V290.29M404.41 301.7V280.5M405.61 301.7V281.91M406.81 301.7V285.84M408.01 301.7V291.57M410.42 301.7V304.01M411.62 301.7V308.42M412.83 301.7V310.43M414.03 301.7V309.51M415.23 301.7V305.6M416.44 301.7V299.83M418.84 301.7V289.53M421.25 301.7V289.08M423.65 301.7V296.22M427.26 301.7V309.13M428.47 301.7V311M432.07 301.7V305.66M433.28 301.7V301.66M434.48 301.7V297.88M435.68 301.7V295.12M436.89 301.7V294.01M438.09 301.7V294.55M439.29 301.7V296.32M440.5 301.7V298.97M441.7 301.7V302.02M445.31 301.7V307.96M446.51 301.7V307.35M447.71 301.7V304.7M448.92 301.7V300.77M450.12 301.7V296.7M453.73 301.7V293.4M454.93 301.7V295.59M456.13 301.7V298.8M457.34 301.7V302.49M458.54 301.7V306.03M459.74 301.7V308.81M460.95 301.7V310.37M464.56 301.7V300.43M465.76 301.7V293.81M468.17 301.7V287.52M470.57 301.7V292.25M471.77 301.7V296.86M472.98 301.7V301.86M476.59 301.7V310.19M477.79 301.7V307.46M480.19 301.7V294.86M481.4 301.7V291.36M482.6 301.7V294.53M483.8 301.7V306.35M487.41 301.7V309.43M488.62 301.7V291.76M492.23 301.7V270.81M493.43 301.7V290.5M494.63 301.7V312.33M495.83 301.7V322.37M497.04 301.7V317.36M498.24 301.7V303.3M499.44 301.7V286.37M500.65 301.7V273.99M501.85 301.7V271.71M503.05 301.7V282.38M504.25 301.7V301.11M505.46 301.7V318.07M506.66 301.7V324.38M507.86 301.7V317.06M510.27 301.7V280.25M511.47 301.7V267.47M512.68 301.7V268.1M513.88 301.7V287.97M515.08 301.7V320.8M518.69 301.7V362" stroke="#ff00ff" stroke-width="1.4" fill="none"/>
<path d="M409.22 301.7V298.02M417.64 301.7V293.9M420.05 301.7V288M422.45 301.7V291.99M424.86 301.7V301.04M426.06 301.7V305.61M429.67 301.7V310.9M430.87 301.7V308.98M442.9 301.7V304.87M444.11 301.7V306.98M451.32 301.7V293.68M452.53 301.7V292.6M462.15 301.7V310.18M463.35 301.7V306.58M466.96 301.7V288.97M469.37 301.7V288.92M474.18 301.7V306.28M475.38 301.7V309.25M478.99 301.7V301.32M485.01 301.7V317.7M486.21 301.7V319.55M489.82 301.7V274.57M491.02 301.7V265.65M509.07 301.7V299.73M516.28 301.7V340M517.49 301.7V363" stroke="#8e2f9e" stroke-width="1.4" fill="none"/>
<line x1="401.5" y1="301.7" x2="520.3" y2="301.7" stroke="#7a4a6a" stroke-width="1.2"/>
<g fill="#0000ff"><circle cx="402" cy="308.95" r="1.25"/><circle cx="404.41" cy="280.5" r="1.25"/><circle cx="408.01" cy="291.57" r="1.25"/><circle cx="409.22" cy="298.02" r="1.25"/><circle cx="410.42" cy="304.01" r="1.25"/><circle cx="411.62" cy="308.42" r="1.25"/><circle cx="412.83" cy="310.43" r="1.25"/><circle cx="416.44" cy="299.83" r="1.25"/><circle cx="417.64" cy="293.9" r="1.25"/><circle cx="418.84" cy="289.53" r="1.25"/><circle cx="421.25" cy="289.08" r="1.25"/><circle cx="422.45" cy="291.99" r="1.25"/><circle cx="424.86" cy="301.04" r="1.25"/><circle cx="426.06" cy="305.61" r="1.25"/><circle cx="428.47" cy="311" r="1.25"/><circle cx="429.67" cy="310.9" r="1.25"/><circle cx="432.07" cy="305.66" r="1.25"/><circle cx="433.28" cy="301.66" r="1.25"/><circle cx="436.89" cy="294.01" r="1.25"/><circle cx="438.09" cy="294.55" r="1.25"/><circle cx="439.29" cy="296.32" r="1.25"/><circle cx="440.5" cy="298.97" r="1.25"/><circle cx="441.7" cy="302.02" r="1.25"/><circle cx="442.9" cy="304.87" r="1.25"/><circle cx="446.51" cy="307.35" r="1.25"/><circle cx="447.71" cy="304.7" r="1.25"/><circle cx="448.92" cy="300.77" r="1.25"/><circle cx="450.12" cy="296.7" r="1.25"/><circle cx="451.32" cy="293.68" r="1.25"/><circle cx="453.73" cy="293.4" r="1.25"/><circle cx="454.93" cy="295.59" r="1.25"/><circle cx="457.34" cy="302.49" r="1.25"/><circle cx="459.74" cy="308.81" r="1.25"/><circle cx="462.15" cy="310.18" r="1.25"/><circle cx="463.35" cy="306.58" r="1.25"/><circle cx="465.76" cy="293.81" r="1.25"/><circle cx="466.96" cy="288.97" r="1.25"/><circle cx="468.17" cy="287.52" r="1.25"/><circle cx="469.37" cy="288.92" r="1.25"/><circle cx="471.77" cy="296.86" r="1.25"/><circle cx="476.59" cy="310.19" r="1.25"/><circle cx="477.79" cy="307.46" r="1.25"/><circle cx="478.99" cy="301.32" r="1.25"/><circle cx="480.19" cy="294.86" r="1.25"/><circle cx="485.01" cy="317.7" r="1.25"/><circle cx="487.41" cy="309.43" r="1.25"/><circle cx="488.62" cy="291.76" r="1.25"/><circle cx="489.82" cy="274.57" r="1.25"/><circle cx="492.23" cy="270.81" r="1.25"/><circle cx="493.43" cy="290.5" r="1.25"/><circle cx="494.63" cy="312.33" r="1.25"/><circle cx="495.83" cy="322.37" r="1.25"/><circle cx="497.04" cy="317.36" r="1.25"/><circle cx="498.24" cy="303.3" r="1.25"/><circle cx="499.44" cy="286.37" r="1.25"/><circle cx="500.65" cy="273.99" r="1.25"/><circle cx="504.25" cy="301.11" r="1.25"/><circle cx="505.46" cy="318.07" r="1.25"/><circle cx="512.68" cy="268.1" r="1.25"/><circle cx="515.08" cy="320.8" r="1.25"/><circle cx="516.28" cy="340" r="1.25"/><circle cx="517.49" cy="331" r="1.3"/><circle cx="519.6" cy="352" r="1.3"/></g>
<circle cx="518.8" cy="380.6" r="1.1" fill="#ff00ff"/>
<rect x="520.5" y="221.2" width="156.7" height="195" fill="#fff" stroke="#262626" stroke-width="1"/>
<path d="M520.29 301.7V255.8" stroke="#ff00ff" stroke-width="1.4"/><circle cx="520.49" cy="255.8" r="1.3" fill="#0000ff"/>
<text x="573.8" y="240.1" font-size="12.35" font-family="Liberation Sans, sans-serif" fill="#262626" text-anchor="start" >Training Targets</text>
<rect x="545.8" y="234.5" width="2" height="2" fill="#0000ff"/>
<text x="573.8" y="263.9" font-size="12.35" font-family="Liberation Sans, sans-serif" fill="#262626" text-anchor="start" >Training Outputs</text>
<path d="M542.6 259.3h9.4M547.3 254.6v9.4" stroke="#ff00ff" stroke-width="1"/>
<text x="573.8" y="287.7" font-size="12.35" font-family="Liberation Sans, sans-serif" fill="#262626" text-anchor="start" >Validation Targets</text>
<rect x="545.8" y="282.1" width="2" height="2" fill="#00c000"/>
<text x="573.8" y="311.5" font-size="12.35" font-family="Liberation Sans, sans-serif" fill="#262626" text-anchor="start" >Validation Outputs</text>
<path d="M542.6 306.9h9.4M547.3 302.2v9.4" stroke="#ff00ff" stroke-width="1"/>
<text x="573.8" y="335.3" font-size="12.35" font-family="Liberation Sans, sans-serif" fill="#262626" text-anchor="start" >Test Targets</text>
<rect x="545.8" y="329.7" width="2" height="2" fill="#ff0000"/>
<text x="573.8" y="359.1" font-size="12.35" font-family="Liberation Sans, sans-serif" fill="#262626" text-anchor="start" >Test Outputs</text>
<path d="M542.6 354.5h9.4M547.3 349.8v9.4" stroke="#7e2f8e" stroke-width="1"/>
<text x="573.8" y="382.9" font-size="12.35" font-family="Liberation Sans, sans-serif" fill="#262626" text-anchor="start" >Errors</text>
<line x1="525.5" y1="378.3" x2="569.9" y2="378.3" stroke="#ff9900" stroke-width="2.8"/>
<text x="573.8" y="406.7" font-size="12.35" font-family="Liberation Sans, sans-serif" fill="#262626" text-anchor="start" >Response</text>
<line x1="525.5" y1="402.1" x2="569.9" y2="402.1" stroke="#000" stroke-width="0.8"/>
<rect x="394.9" y="416.4" width="282.3" height="21.4" fill="#fff" stroke="#262626" stroke-width="1"/>
<rect x="486.5" y="426" width="2" height="2" fill="#0000ff"/>
<text x="514.2" y="431.5" font-size="12.35" font-family="Liberation Sans, sans-serif" fill="#262626" text-anchor="start" >Targets - Outputs</text>
<text x="92.2" y="464.2" font-size="15" font-family="Liberation Serif, serif" font-weight="bold" fill="#000">a)</text>
<text x="120.2" y="464.2" font-size="15" font-family="Liberation Serif, serif" font-weight="bold" fill="#000" textLength="137" lengthAdjust="spacingAndGlyphs">Regression of S-5 C-3</text>
<text x="441.3" y="464.2" font-size="15" font-family="Liberation Serif, serif" font-weight="bold" fill="#000">b)</text>
<text x="468.3" y="464.2" font-size="15" font-family="Liberation Serif, serif" font-weight="bold" fill="#000" textLength="155" lengthAdjust="spacingAndGlyphs">Fitness graph of S-5 C-3</text>
</svg></body></html>
